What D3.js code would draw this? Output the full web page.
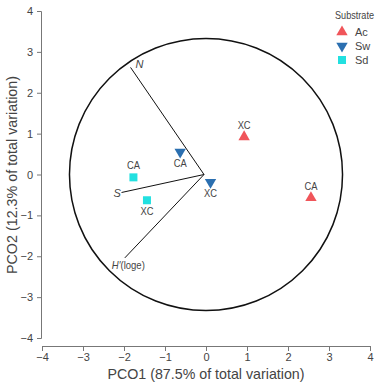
<!DOCTYPE html>
<html><head><meta charset="utf-8">
<script src="https://cdn.jsdelivr.net/npm/d3@7"></script>
<style>body{margin:0;background:#fff}svg{display:block}</style>
</head><body>
<script>
const substrates = ["Ac", "Sw", "Sd"];
const colors = ["#f0555a", "#2b6fb0", "#22e0e0"];
const pointSubstrate = ["Ac", "Ac", "Sw", "Sw", "Sd", "Sd"];
const pointLabel = ["XC", "CA", "CA", "XC", "CA", "XC"];
const pco1 = [0.93, 2.56, -0.63, 0.11, -1.77, -1.44];
const pco2 = [0.92, -0.57, 0.55, -0.19, -0.07, -0.63];
const vectorNames = ["N", "S", "H′"];
const vectorX = [-1.84, -2.06, -1.98];
const vectorY = [2.62, -0.44, -2.04];
const circleRadius = 3.33;
const ticks = [-4, -3, -2, -1, 0, 1, 2, 3, 4];

const W = 383, H = 384;
const font = "'Liberation Sans Narrow','Arial Narrow','Liberation Sans',sans-serif";
const svg = d3.select("body").append("svg").attr("width", W).attr("height", H)
  .style("font-family", font);

const x = d3.scaleLinear().domain([-4, 4]).range([42, 370]);
const y = d3.scaleLinear().domain([-4, 4]).range([338, 11]);

const axisColor = "#777", textColor = "#444";
const xa = svg.append("g").attr("transform", "translate(0,346)")
  .call(d3.axisBottom(x).tickValues(ticks).tickSize(5).tickPadding(2).tickFormat(d => d < 0 ? "−" + Math.abs(d) : d));
const ya = svg.append("g").attr("transform", "translate(41,0)")
  .call(d3.axisLeft(y).tickValues(ticks).tickSize(4).tickPadding(4).tickFormat(d => d < 0 ? "−" + Math.abs(d) : d));
[xa, ya].forEach(a => {
  a.select(".domain").attr("stroke", axisColor);
  a.selectAll(".tick line").attr("stroke", axisColor);
  a.selectAll(".tick text").attr("fill", textColor).style("font-size", "11px").style("font-family", font);
});

svg.append("text").attr("x", 206).attr("y", 379).attr("text-anchor", "middle")
  .attr("textLength", 197).attr("lengthAdjust", "spacingAndGlyphs")
  .style("font-size", "15px").attr("fill", textColor).text("PCO1 (87.5% of total variation)");
svg.append("text").attr("transform", "translate(17,175) rotate(-90)").attr("text-anchor", "middle")
  .attr("textLength", 198).attr("lengthAdjust", "spacingAndGlyphs")
  .style("font-size", "15px").attr("fill", textColor).text("PCO2 (12.3% of total variation)");

// circle
svg.append("ellipse").attr("cx", x(0)).attr("cy", y(0))
  .attr("rx", x(circleRadius) - x(0)).attr("ry", y(0) - y(circleRadius))
  .attr("fill", "none").attr("stroke", "#111").attr("stroke-width", 1.5);

// vectors
vectorNames.forEach((n, i) => {
  svg.append("line").attr("x1", x(0) - 2).attr("y1", y(0)).attr("x2", x(vectorX[i])).attr("y2", y(vectorY[i]))
    .attr("stroke", "#111").attr("stroke-width", 1);
});
svg.append("text").attr("x", x(vectorX[0]) + 5).attr("y", y(vectorY[0]) + 1)
  .style("font-size", "11px").style("font-style", "italic").attr("fill", textColor).text("N");
svg.append("text").attr("x", x(vectorX[1]) - 8).attr("y", y(vectorY[1]) + 5)
  .style("font-size", "11px").style("font-style", "italic").attr("fill", textColor).text("S");
const ht = svg.append("text").attr("x", x(vectorX[2]) - 13).attr("y", y(vectorY[2]) + 11)
  .attr("textLength", 33).attr("lengthAdjust", "spacingAndGlyphs")
  .style("font-size", "11px").attr("fill", textColor);
ht.append("tspan").style("font-style", "italic").text("H′");
ht.append("tspan").text("(loge)");

const color = d3.scaleOrdinal().domain(substrates).range(colors);
const symType = {Ac: d3.symbolTriangle, Sw: d3.symbolTriangle, Sd: d3.symbolSquare};
function sym(s) {
  return d3.symbol().type(symType[s]).size(s === "Sd" ? 64 : 56)();
}
function rot(s) { return s === "Sw" ? " rotate(180)" : ""; }

pco1.forEach((v, i) => {
  const s = pointSubstrate[i];
  const px = x(v), py = y(pco2[i]);
  svg.append("path").attr("d", sym(s)).attr("fill", color(s))
    .attr("transform", `translate(${px},${py})${rot(s)}`);
  const below = (s === "Sw") || (s === "Sd" && pointLabel[i] === "XC");
  svg.append("text").attr("x", px).attr("y", below ? py + 15 : py - 8).attr("text-anchor", "middle")
    .attr("textLength", 13).attr("lengthAdjust", "spacingAndGlyphs")
    .style("font-size", "11px").attr("fill", textColor).text(pointLabel[i]);
});

// legend
svg.append("text").attr("x", 335).attr("y", 19).attr("textLength", 39).attr("lengthAdjust", "spacingAndGlyphs")
  .style("font-size", "11px").attr("fill", textColor).text("Substrate");
substrates.forEach((s, i) => {
  const ly = 32 + i * 14;
  svg.append("path").attr("d", sym(s)).attr("fill", color(s))
    .attr("transform", `translate(342,${ly})${rot(s)}`);
  svg.append("text").attr("x", 355).attr("y", ly + 4).style("font-size", "11px").attr("fill", textColor).text(s);
});
</script>
</body></html>
